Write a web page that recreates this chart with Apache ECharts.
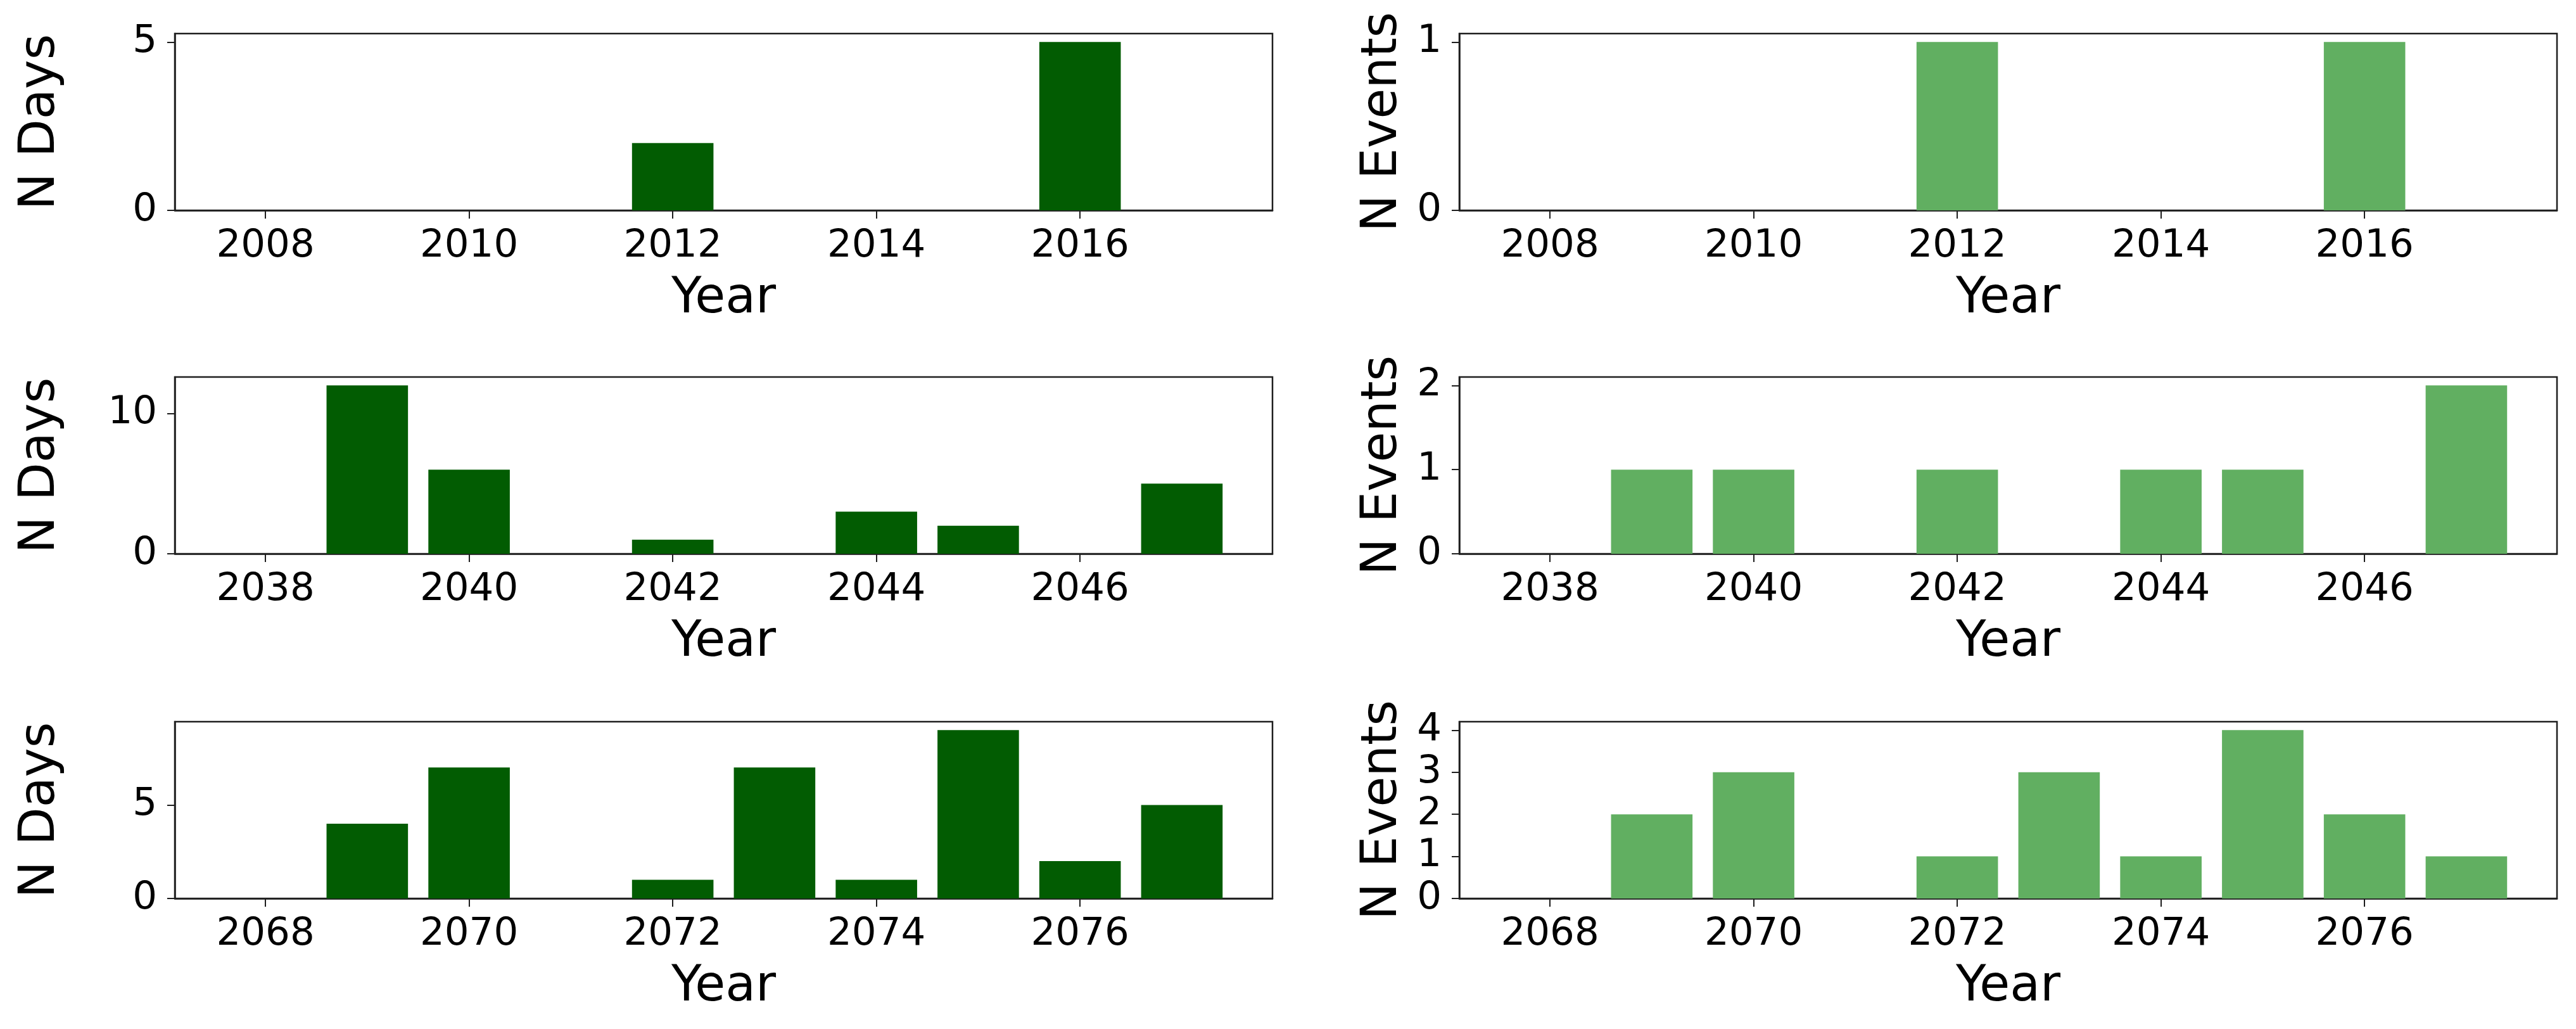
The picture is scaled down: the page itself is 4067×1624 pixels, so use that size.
<!DOCTYPE html>
<html>
<head>
<meta charset="utf-8">
<script src="https://cdn.jsdelivr.net/npm/echarts@6/dist/echarts.min.js"></script>
<style>
html,body{margin:0;padding:0;background:#fff;}
#chart{width:4067px;height:1624px;}
</style>
</head>
<body>
<div id="chart"></div>
<script>
// ---- data ----
const years1 = [2008, 2009, 2010, 2011, 2012, 2013, 2014, 2015, 2016, 2017];
const days1 = [0, 0, 0, 0, 2, 0, 0, 0, 5, 0];
const events1 = [0, 0, 0, 0, 1, 0, 0, 0, 1, 0];

const years2 = [2038, 2039, 2040, 2041, 2042, 2043, 2044, 2045, 2046, 2047];
const days2 = [0, 12, 6, 0, 1, 0, 3, 2, 0, 5];
const events2 = [0, 1, 1, 0, 1, 0, 1, 1, 0, 2];

const years3 = [2068, 2069, 2070, 2071, 2072, 2073, 2074, 2075, 2076, 2077];
const days3 = [0, 4, 7, 0, 1, 7, 1, 9, 2, 5];
const events3 = [0, 2, 3, 0, 1, 3, 1, 4, 2, 1];

const xTicks1 = [2008, 2010, 2012, 2014, 2016];
const xTicks2 = [2038, 2040, 2042, 2044, 2046];
const xTicks3 = [2068, 2070, 2072, 2074, 2076];

const yTicksDays1 = [0, 5];
const yTicksDays2 = [0, 10];
const yTicksDays3 = [0, 5];
const yTicksEvents1 = [0, 1];
const yTicksEvents2 = [0, 1, 2];
const yTicksEvents3 = [0, 1, 2, 3, 4];

const xLabel = 'Year';
const yLabelDays = 'N Days';
const yLabelEvents = 'N Events';

// ---- layout / style ----
const FONT = 'DejaVu Sans';
const LINE = '#1e1e1e';
const COLOR_DAYS = '#025c02';
const COLOR_EVENTS = '#61af61';
const BAR_FRAC = 0.8;
const PAD = 0.89;

const colLeft = [276, 2304];
const gridW = 1733;
const rowTop = [53, 595, 1139];
const gridH = 279;

const panels = [
  {years: years1, vals: days1, xt: xTicks1, yt: yTicksDays1, col: 0, row: 0, color: COLOR_DAYS, name: yLabelDays, nameGap: 172},
  {years: years1, vals: events1, xt: xTicks1, yt: yTicksEvents1, col: 1, row: 0, color: COLOR_EVENTS, name: yLabelEvents, nameGap: 81},
  {years: years2, vals: days2, xt: xTicks2, yt: yTicksDays2, col: 0, row: 1, color: COLOR_DAYS, name: yLabelDays, nameGap: 172},
  {years: years2, vals: events2, xt: xTicks2, yt: yTicksEvents2, col: 1, row: 1, color: COLOR_EVENTS, name: yLabelEvents, nameGap: 81},
  {years: years3, vals: days3, xt: xTicks3, yt: yTicksDays3, col: 0, row: 2, color: COLOR_DAYS, name: yLabelDays, nameGap: 172},
  {years: years3, vals: events3, xt: xTicks3, yt: yTicksEvents3, col: 1, row: 2, color: COLOR_EVENTS, name: yLabelEvents, nameGap: 81}
];

const grid = [], xAxis = [], yAxis = [], series = [];
panels.forEach((p, i) => {
  const xmin = p.years[0] - PAD;
  const xmax = p.years[p.years.length - 1] + PAD;
  const ymax = Math.max.apply(null, p.vals) * 1.05;
  grid.push({
    left: colLeft[p.col], top: rowTop[p.row], width: gridW, height: gridH,
    show: true, borderColor: LINE, borderWidth: 2.5, backgroundColor: 'transparent'
  });
  xAxis.push({
    type: 'value', gridIndex: i, min: xmin, max: xmax,
    name: xLabel, nameLocation: 'middle', nameGap: 102,
    nameTextStyle: {fontFamily: FONT, fontSize: 78, color: '#000'},
    axisLine: {show: true, onZero: false, lineStyle: {color: LINE, width: 2.5}},
    axisTick: {show: true, length: 13, lineStyle: {color: LINE, width: 2}, customValues: p.xt},
    axisLabel: {show: true, fontFamily: FONT, fontSize: 61, color: '#000', margin: 27,
      customValues: p.xt, formatter: v => String(v)},
    splitLine: {show: false}
  });
  yAxis.push({
    type: 'value', gridIndex: i, min: 0, max: ymax,
    name: p.name, nameLocation: 'middle', nameGap: p.nameGap, nameRotate: 90,
    nameTextStyle: {fontFamily: FONT, fontSize: 78, color: '#000'},
    axisLine: {show: true, lineStyle: {color: LINE, width: 2.5}},
    axisTick: {show: true, length: 12, lineStyle: {color: LINE, width: 2}, customValues: p.yt},
    axisLabel: {show: true, fontFamily: FONT, fontSize: 61, color: '#000', margin: 28,
      customValues: p.yt, formatter: v => String(v)},
    splitLine: {show: false}
  });
  series.push({
    type: 'bar', xAxisIndex: i, yAxisIndex: i,
    data: p.years.map((y, k) => [y, p.vals[k]]),
    barWidth: BAR_FRAC / (xmax - xmin) * gridW,
    itemStyle: {color: p.color},
    silent: true
  });
});

const chart = echarts.init(document.getElementById('chart'), null, {renderer: 'canvas'});
chart.setOption({
  animation: false,
  backgroundColor: '#fff',
  grid: grid, xAxis: xAxis, yAxis: yAxis, series: series
});
</script>
</body>
</html>
